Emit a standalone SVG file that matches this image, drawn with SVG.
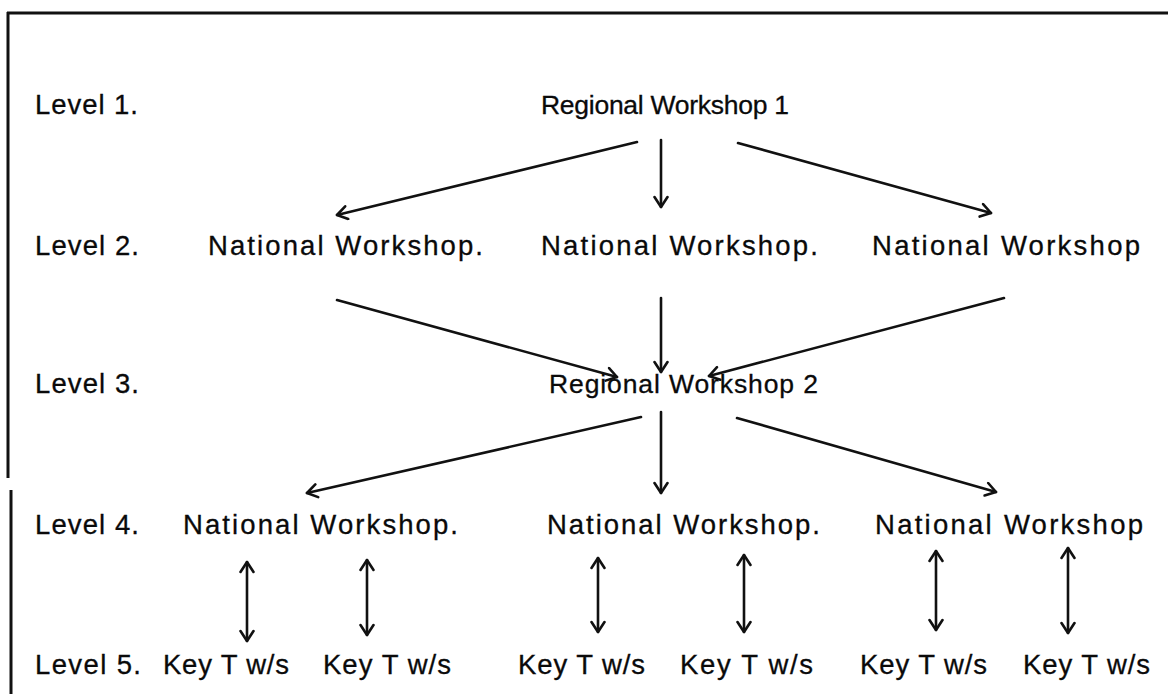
<svg xmlns="http://www.w3.org/2000/svg" width="1168" height="694" viewBox="0 0 1168 694">
<defs>
<style>
text{font-family:"Liberation Sans",Arial,sans-serif;font-size:27.5px;fill:#0a0a0a;stroke:#0a0a0a;stroke-width:0.3}
.r{font-size:26.5px}
.c line{stroke:#111;stroke-width:2.6;stroke-linecap:round;fill:none}
.b{stroke:#111;stroke-width:3;fill:none}
</style>
<marker id="a" viewBox="-12 -8 14 16" markerWidth="14" markerHeight="16" markerUnits="userSpaceOnUse" orient="auto-start-reverse" refX="0" refY="0">
<path d="M-10,-6.5 L0,0 L-10,6.5" fill="none" stroke="#111" stroke-width="2.6" stroke-linecap="round" stroke-linejoin="round"/>
</marker>
</defs>
<rect width="1168" height="694" fill="#fff"/>
<g id="frame">
<line class="b" x1="7" y1="13" x2="1168" y2="13"/>
<line class="b" x1="8" y1="12" x2="8" y2="478"/>
<line class="b" x1="11" y1="490" x2="11" y2="694"/>
</g>
<g id="levels">
<text x="35" y="114" textLength="103">Level 1.</text>
<text x="35" y="255" textLength="104">Level 2.</text>
<text x="35" y="393" textLength="104">Level 3.</text>
<text x="35" y="534" textLength="104">Level 4.</text>
<text x="35" y="674" textLength="106">Level 5.</text>
</g>
<g id="rw1"><text class="r" x="541" y="114" textLength="248">Regional Workshop 1</text></g>
<g id="nw2a"><text x="208" y="255" textLength="275">National Workshop.</text></g>
<g id="nw2b"><text x="541" y="255" textLength="277">National Workshop.</text></g>
<g id="nw2c"><text x="872" y="255" textLength="268">National Workshop</text></g>
<g id="rw2"><text class="r" x="549" y="393" textLength="269">Regional Workshop 2</text></g>
<g id="nw4a"><text x="183" y="534" textLength="275">National Workshop.</text></g>
<g id="nw4b"><text x="547" y="534" textLength="273">National Workshop.</text></g>
<g id="nw4c"><text x="875" y="534" textLength="268">National Workshop</text></g>
<g id="k1"><text x="163" y="674" textLength="126">Key T w/s</text></g>
<g id="k2"><text x="323" y="674" textLength="128">Key T w/s</text></g>
<g id="k3"><text x="518" y="674" textLength="127">Key T w/s</text></g>
<g id="k4"><text x="680" y="674" textLength="133">Key T w/s</text></g>
<g id="k5"><text x="860" y="674" textLength="127">Key T w/s</text></g>
<g id="k6"><text x="1023" y="674" textLength="127">Key T w/s</text></g>
<g id="connectors" class="c">
<line x1="637" y1="142" x2="337" y2="215" marker-end="url(#a)"/>
<line x1="661" y1="140" x2="661" y2="207" marker-end="url(#a)"/>
<line x1="738" y1="143" x2="991" y2="213" marker-end="url(#a)"/>
<line x1="337" y1="300" x2="617" y2="377" marker-end="url(#a)"/>
<line x1="661" y1="298" x2="661" y2="372" marker-end="url(#a)"/>
<line x1="1004" y1="298" x2="709" y2="376" marker-end="url(#a)"/>
<line x1="641" y1="417" x2="307" y2="493" marker-end="url(#a)"/>
<line x1="661" y1="412" x2="661" y2="493" marker-end="url(#a)"/>
<line x1="737" y1="418" x2="996" y2="492" marker-end="url(#a)"/>
<line x1="247" y1="562" x2="247" y2="641" marker-start="url(#a)" marker-end="url(#a)"/>
<line x1="367" y1="560" x2="367" y2="635" marker-start="url(#a)" marker-end="url(#a)"/>
<line x1="598" y1="558" x2="598" y2="632" marker-start="url(#a)" marker-end="url(#a)"/>
<line x1="744" y1="555" x2="744" y2="632" marker-start="url(#a)" marker-end="url(#a)"/>
<line x1="936" y1="551" x2="936" y2="630" marker-start="url(#a)" marker-end="url(#a)"/>
<line x1="1068" y1="548" x2="1068" y2="633" marker-start="url(#a)" marker-end="url(#a)"/>
</g>
</svg>
